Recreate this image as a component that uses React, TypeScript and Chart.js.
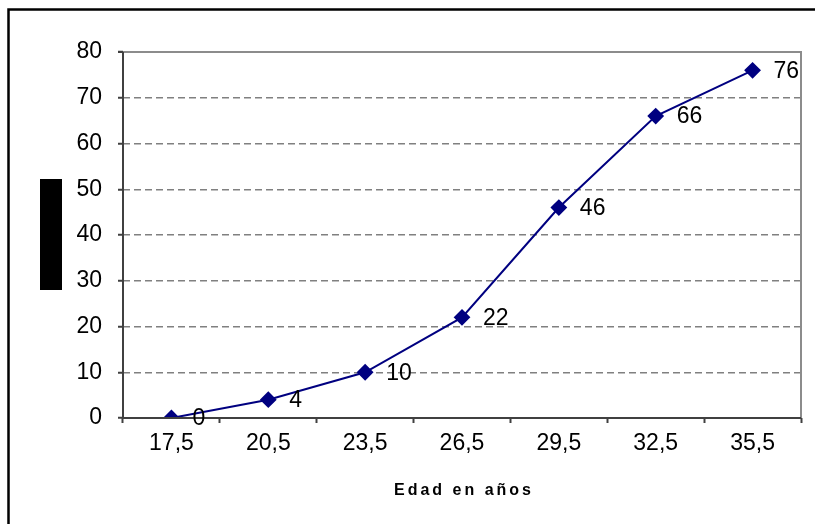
import React, { useEffect, useRef } from "react";
import { Chart, registerables } from "chart.js";

Chart.register(...registerables);

const categories = ["17,5", "20,5", "23,5", "26,5", "29,5", "32,5", "35,5"];
const values = [0, 4, 10, 22, 46, 66, 76];
const xTitle = "Edad en años";
const yMin = 0;
const yMax = 80;
const yStep = 10;

const FONT = "'Liberation Sans', Arial, sans-serif";
const FONT_SIZE = 23;

const framePlugin = {
  id: "frame",
  beforeDraw(chart: any) {
    const { ctx } = chart;
    ctx.save();
    ctx.fillStyle = "#ffffff";
    ctx.fillRect(0, 0, chart.width, chart.height);
    ctx.strokeStyle = "#000000";
    ctx.lineWidth = 2.5;
    ctx.beginPath();
    ctx.moveTo(8.5, chart.height + 10);
    ctx.lineTo(8.5, 9.5);
    ctx.lineTo(chart.width + 10, 9.5);
    ctx.stroke();
    ctx.restore();
  },
  afterDraw(chart: any) {
    const { ctx, chartArea: a } = chart;
    ctx.save();
    ctx.lineWidth = 2;
    ctx.strokeStyle = "#8c8c8c";
    ctx.beginPath();
    ctx.moveTo(a.left, a.top);
    ctx.lineTo(a.right, a.top);
    ctx.lineTo(a.right, a.bottom);
    ctx.stroke();
    ctx.strokeStyle = "#404040";
    ctx.beginPath();
    ctx.moveTo(a.left - 5, a.top);
    ctx.lineTo(a.left, a.top);
    ctx.moveTo(a.left, a.top);
    ctx.lineTo(a.left, a.bottom);
    ctx.lineTo(a.right, a.bottom);
    ctx.stroke();
    const cy = (a.top + a.bottom) / 2;
    ctx.fillStyle = "#000000";
    ctx.fillRect(40, cy - 56, 22, 111);
    ctx.fillStyle = "#000000";
    ctx.font = `bold 16px ${FONT}`;
    (ctx as any).letterSpacing = "3px";
    ctx.textAlign = "center";
    ctx.textBaseline = "middle";
    ctx.fillText(xTitle, (a.left + a.right) / 2 + 2, 491);
    ctx.font = `${FONT_SIZE}px ${FONT}`;
    (ctx as any).letterSpacing = "0px";
    ctx.textAlign = "left";
    ctx.textBaseline = "middle";
    const meta = chart.getDatasetMeta(0);
    meta.data.forEach((pt: any, i: number) => {
      ctx.fillText(String(values[i]), pt.x + 21, pt.y + 1);
    });
    ctx.restore();
  },
};

export default function App() {
  const ref = useRef<HTMLCanvasElement | null>(null);
  useEffect(() => {
    if (!ref.current) return;
    const chart = new Chart(ref.current, {
      type: "line",
      data: {
        labels: categories,
        datasets: [
          {
            data: values,
            borderColor: "#000080",
            backgroundColor: "#000080",
            borderWidth: 2,
            pointStyle: "rectRot",
            pointRadius: 7,
            pointHoverRadius: 7,
            pointBackgroundColor: "#000080",
            pointBorderColor: "#000080",
            tension: 0,
            fill: false,
          },
        ],
      },
      options: {
        responsive: false,
        animation: false,
        events: [],
        layout: { padding: { left: 0, right: 14, top: 52, bottom: 0 } },
        plugins: { legend: { display: false }, tooltip: { enabled: false } },
        scales: {
          x: {
            type: "category",
            offset: true,
            grid: {
              offset: true,
              drawOnChartArea: false,
              drawTicks: true,
              tickLength: 5,
              tickColor: "#404040",
              tickWidth: 2,
              color: "#404040",
            },
            border: { display: false },
            ticks: {
              color: "#000000",
              font: { family: FONT, size: FONT_SIZE },
              padding: 7,
              maxRotation: 0,
              autoSkip: false,
            },
            afterFit: (s: any) => {
              s.height = 106;
            },
          },
          y: {
            min: yMin,
            max: yMax,
            grid: {
              color: (c: any) =>
                c.tick && (c.tick.value === yMin || c.tick.value === yMax) ? "rgba(0,0,0,0)" : "#808080",
              lineWidth: 1.5,
              drawTicks: true,
              tickLength: 5,
              tickColor: "#404040",
              tickWidth: 2,
              tickBorderDash: [],
            },
            border: { display: false, dash: [7, 4] },
            ticks: {
              stepSize: yStep,
              color: "#000000",
              font: { family: FONT, size: FONT_SIZE },
              padding: 16,
            },
            afterFit: (s: any) => {
              s.width = 123;
            },
          },
        },
      },
      plugins: [framePlugin],
    });
    return () => chart.destroy();
  }, []);
  return (
    <div style={{ position: "fixed", left: 0, top: 0, width: 815, height: 524, background: "#fff" }}>
      <canvas ref={ref} width={815} height={524} style={{ width: 815, height: 524, display: "block" }} />
    </div>
  );
}
